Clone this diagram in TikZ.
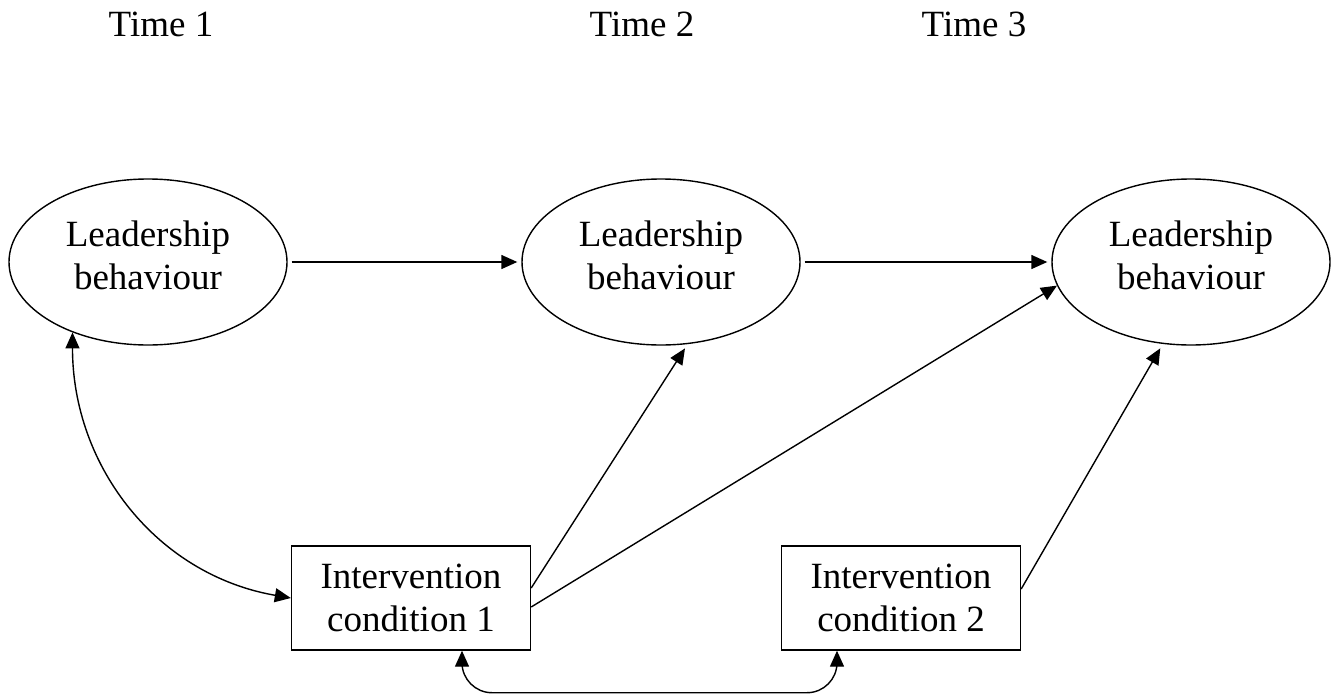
\documentclass[tikz,border=0pt]{standalone}
\usepackage{fontspec}
\setmainfont{Liberation Serif}
\usetikzlibrary{shapes,arrows.meta,positioning}

\begin{document}
\begin{tikzpicture}[x=0.5pt, y=-0.5pt, line width=0.7pt,
        >={Triangle[length=8pt, width=7pt]},
        every node/.style={font=\fontsize{18.5}{21.5}\selectfont, align=center},
        leader/.style={ellipse, draw, minimum width=139pt, minimum height=83pt, inner sep=0pt,
                execute at end node=\strut},
        cond/.style={rectangle, draw, minimum width=119.5pt, minimum height=52pt, inner sep=0pt}]
        \useasboundingbox (0,0) rectangle (1338,696);

        \node[anchor=base] (t1) at (161,36) {Time 1};
        \node[anchor=base] (t2) at (642,36) {Time 2};
        \node[anchor=base] (t3) at (974,36) {Time 3};

        \node[leader] (1) at (148,262) {Leadership\\behaviour};
        \node[leader] (2) at (661,262) {Leadership\\behaviour};
        \node[leader] (3) at (1191,262) {Leadership\\behaviour};
        \node[cond] (4) at (411,598) {Intervention\\condition 1};
        \node[cond] (5) at (901,598) {Intervention\\condition 2};

        \draw[->, shorten <=2pt, shorten >=2pt] (1) -- (2);
        \draw[->, shorten <=2pt, shorten >=2pt] (2) -- (3);
        \draw[<->] (1.223) .. controls +(0,135) and +(-133,-23) .. (4.west);
        \draw[->, shorten >=2.5pt] ([yshift=5pt]4.east) -- (2.-72);
        \draw[->] ([yshift=-4.5pt]4.east) -- (3.190);
        \draw[->, shorten >=2.5pt] ([yshift=4.5pt]5.east) -- (3.-109);
        \draw[<->, rounded corners=15pt] ([xshift=25.5pt]4.south) -- ++(0,42) -| ([xshift=-32pt]5.south);
  \end{tikzpicture}
\end{document}
